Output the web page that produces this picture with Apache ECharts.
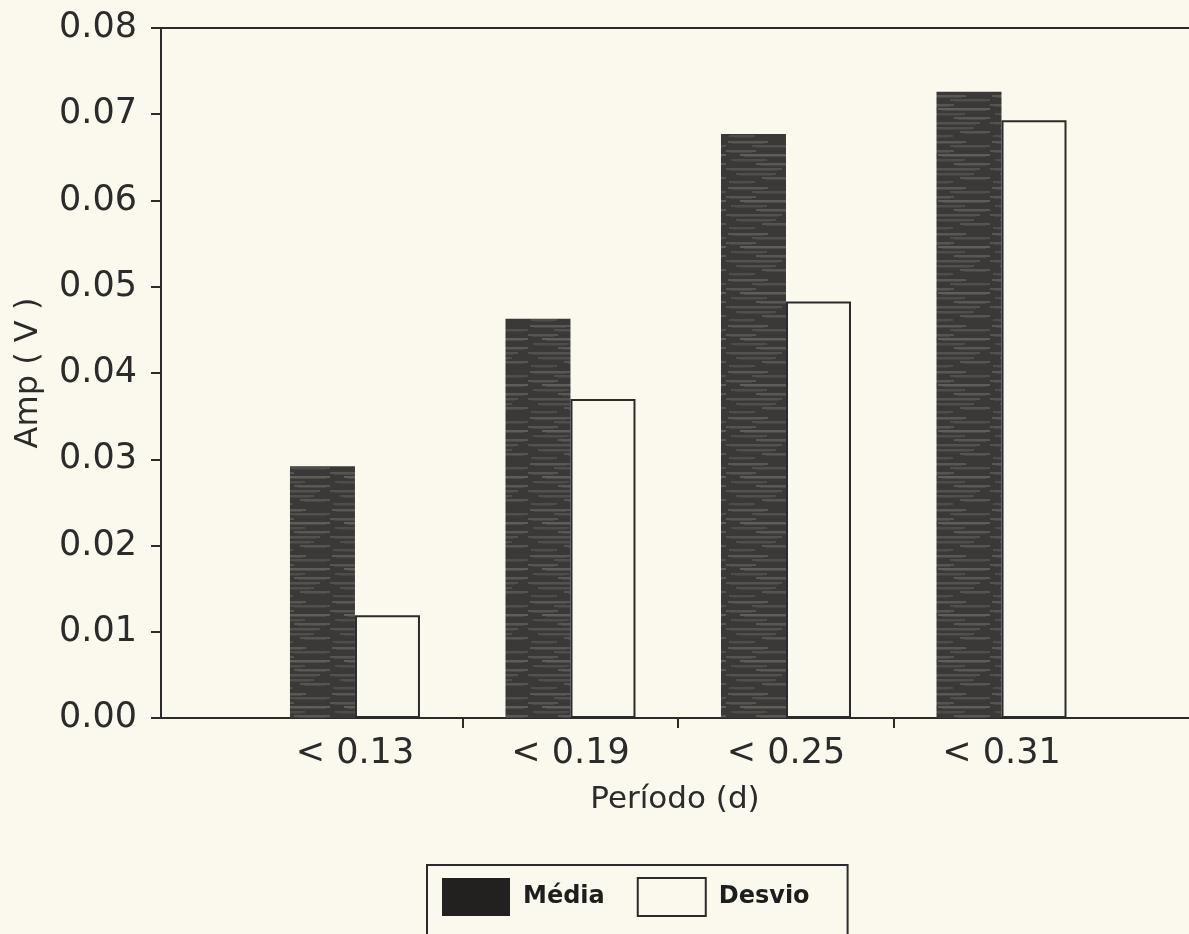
<!DOCTYPE html>
<html>
<head>
<meta charset="utf-8">
<script src="https://cdn.jsdelivr.net/npm/echarts@6/dist/echarts.min.js"></script>
<style>
  html, body { margin: 0; padding: 0; background: #fbf8ee; }
  #chart { width: 1189px; height: 934px; }
</style>
</head>
<body>
<div id="chart"></div>
<script>
// Period classes (days) and mean / deviation of the amplitude (V)
const categories = ['< 0.13', '< 0.19', '< 0.25', '< 0.31'];
const mediaValues = [0.0292, 0.0463, 0.0677, 0.0726];
const desvioValues = [0.0119, 0.0370, 0.0483, 0.0693];
const seriesNames = ['Média', 'Desvio'];

// each class sits at 1, 2, 3, 4 on a numeric x axis; ticks mark the class boundaries
const positions = categories.map((_, i) => i + 1);
const boundaries = positions.slice(0, -1).map(p => p + 0.5);

const ink = '#2b2b2b';
const paper = '#fbf8ee';
const font = 'DejaVu Sans';

// dark shaded fill with soft light horizontal streaks
function shadeTexture() {
  const c = document.createElement('canvas');
  c.width = 66; c.height = 46;
  const g = c.getContext('2d');
  g.fillStyle = '#3a3937';
  g.fillRect(0, 0, c.width, c.height);
  const streaks = [
    [2, 3, 40, 0.22], [26, 7, 40, 0.16], [0, 12, 30, 0.2], [14, 16, 52, 0.26],
    [5, 21, 36, 0.14], [30, 25, 36, 0.22], [0, 30, 56, 0.18], [10, 35, 40, 0.16],
    [36, 39, 30, 0.2], [3, 43, 26, 0.14]
  ];
  streaks.forEach(([x, y, w, a]) => {
    g.fillStyle = 'rgba(205,202,192,' + a + ')';
    g.fillRect(x, y, w, 2);
    g.fillStyle = 'rgba(205,202,192,' + (a * 0.5) + ')';
    g.fillRect(x + 4, y + 2, w - 8, 1);
  });
  return c;
}
const shade = { image: shadeTexture(), repeat: 'repeat' };

const chart = echarts.init(document.getElementById('chart'));
chart.setOption({
  backgroundColor: paper,
  animation: false,
  grid: { left: 161, right: 0, top: 28, bottom: 216 },
  legend: {
    left: 427, top: 865,
    icon: 'rect',
    itemWidth: 68, itemHeight: 38, itemGap: 32,
    padding: [12, 38, 40, 15],
    borderColor: ink, borderWidth: 2,
    data: [
      { name: seriesNames[0], itemStyle: { color: '#222120' } },
      { name: seriesNames[1] }
    ],
    textStyle: { fontFamily: font, fontSize: 24, fontWeight: 'bold', color: '#1e1e1e', padding: [0, 0, 0, 8] }
  },
  xAxis: [
    {
      type: 'value', min: 0.1, max: 4.87,
      name: 'Período (d)', nameLocation: 'middle', nameGap: 66,
      nameTextStyle: { fontFamily: font, fontSize: 31, color: ink },
      axisLine: { show: true, lineStyle: { color: ink, width: 2 } },
      axisTick: { show: true, length: 10, customValues: boundaries, lineStyle: { color: ink, width: 2 } },
      axisLabel: {
        customValues: positions, margin: 18,
        fontFamily: font, fontSize: 35, color: ink,
        formatter: v => categories[Math.round(v) - 1]
      },
      splitLine: { show: false }
    },
    {
      type: 'value', min: 0.1, max: 4.87, position: 'top',
      axisLine: { show: true, lineStyle: { color: ink, width: 2 } },
      axisTick: { show: false }, axisLabel: { show: false }, splitLine: { show: false }
    }
  ],
  yAxis: {
    type: 'value', min: 0, max: 0.08, interval: 0.01,
    name: 'Amp ( V )', nameLocation: 'middle', nameGap: 116,
    nameTextStyle: { fontFamily: font, fontSize: 32, color: ink },
    axisLine: { show: true, lineStyle: { color: ink, width: 2 } },
    axisTick: { show: true, length: 10, lineStyle: { color: ink, width: 2 } },
    axisLabel: { margin: 24, fontFamily: font, fontSize: 35, color: ink, formatter: v => v.toFixed(2) },
    splitLine: { show: false }
  },
  series: [
    {
      name: seriesNames[0], type: 'bar', barWidth: 65, barGap: '0%',
      data: positions.map((p, i) => [p, mediaValues[i]]),
      itemStyle: { color: shade }
    },
    {
      name: seriesNames[1], type: 'bar', barWidth: 65, barGap: '0%',
      data: positions.map((p, i) => [p, desvioValues[i]]),
      itemStyle: { color: paper, borderColor: ink, borderWidth: 2 }
    }
  ]
});
</script>
</body>
</html>
